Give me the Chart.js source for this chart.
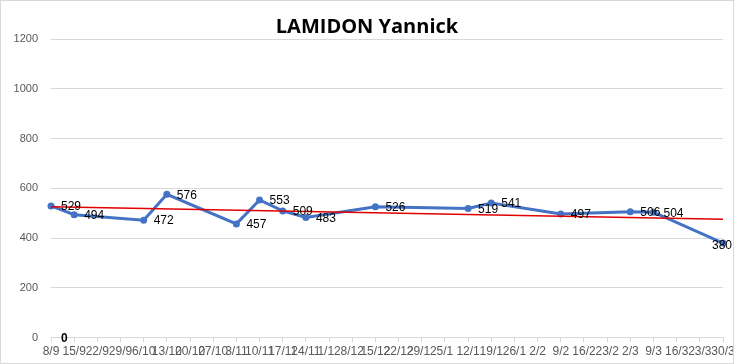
<!DOCTYPE html>
<html><head><meta charset="utf-8">
<script src="https://cdn.jsdelivr.net/npm/chart.js@4"></script>
<style>
html,body{margin:0;padding:0;background:#fff;}
#wrap{position:absolute;left:0;top:0;width:732px;height:362px;border:1px solid #d9d9d9;}
canvas{display:block;}
</style></head><body>
<div id="wrap"><canvas id="c" width="732" height="362"></canvas></div>
<script>
const categories = ["8/9","15/9","22/9","29/9","6/10","13/10","20/10","27/10","3/11","10/11","17/11","24/11","1/12","8/12","15/12","22/12","29/12","5/1","12/1","19/1","26/1","2/2","9/2","16/2","23/2","2/3","9/3","16/3","23/3","30/3"];
const scores = [529,494,null,null,472,576,null,null,457,553,509,483,null,null,526,null,null,null,519,541,null,null,497,null,null,506,504,null,null,380];
const trend = [526,null,null,null,null,null,null,null,null,null,null,null,null,null,null,null,null,null,null,null,null,null,null,null,null,null,null,null,null,476];
const zeroSeries = [0,null,null,null,null,null,null,null,null,null,null,null,null,null,null,null,null,null,null,null,null,null,null,null,null,null,null,null,null,null];
const yTicks = [0,200,400,600,800,1000,1200];

const labelPlugin = {
  id:'dlabels',
  afterDatasetsDraw(chart){
    const ctx = chart.ctx;
    [0,2].forEach(di=>{
      const meta = chart.getDatasetMeta(di);
      const ds = chart.data.datasets[di];
      ctx.save();
      ctx.fillStyle = '#000';
      ctx.font = (di===2?'bold ':'') + '12px "Liberation Sans", Arial, sans-serif';
      ctx.textAlign = 'left';
      ctx.textBaseline = 'middle';
      meta.data.forEach((pt,i)=>{
        const v = ds.data[i];
        if(v===null||v===undefined) return;
        const t = String(v);
        const w = ctx.measureText(t).width;
        let x = pt.x+10, y = pt.y+1;
        if (x + w > chart.width - 1) { x = chart.width - 1 - w; y = pt.y + 3; }
        ctx.fillText(t, x, y);
      });
      ctx.restore();
    });
  }
};

new Chart(document.getElementById('c'),{
  type:'line',
  data:{labels:categories,datasets:[
    {label:'Score',data:scores,borderColor:'#4472C4',backgroundColor:'#4472C4',borderWidth:3,pointRadius:3.5,pointBackgroundColor:'#4472C4',pointBorderWidth:0,spanGaps:true,tension:0,order:2},
    {label:'Tendance',data:trend,borderColor:'#E00000',borderWidth:1.5,pointRadius:0,spanGaps:true,tension:0,order:1},
    {label:'Zero',data:zeroSeries,borderColor:'rgba(0,0,0,0)',pointRadius:0,spanGaps:true,order:3}
  ]},
  options:{
    responsive:false,animation:false,
    layout:{padding:{left:0,right:0,top:0,bottom:2}},
    plugins:{
      legend:{display:false},tooltip:{enabled:false},
      title:{display:true,text:'LAMIDON Yannick',color:'#000',font:{family:'"Open Sans", sans-serif',size:20,weight:'bold'},padding:{top:14,bottom:0}}
    },
    scales:{
      x:{offset:false,
        afterFit(s){s.paddingRight=10;},
        grid:{drawOnChartArea:false,drawTicks:true,tickLength:5,color:'#d9d9d9'},
        border:{display:true,color:'#d9d9d9'},
        ticks:{autoSkip:false,maxRotation:0,minRotation:0,padding:2,color:'#595959',font:{family:'"Liberation Sans Narrow","Liberation Sans",sans-serif',size:12}}
      },
      y:{min:0,max:1200,
        afterBuildTicks(s){s.ticks=yTicks.map(v=>({value:v}));},
        afterFit(s){s.width=50;},
        grid:{color:'#d9d9d9',drawTicks:false},
        border:{display:false},
        ticks:{padding:13,color:'#595959',callback:(v)=>String(v),font:{family:'"Liberation Sans Narrow","Liberation Sans",sans-serif',size:11}}
      }
    }
  },
  plugins:[labelPlugin]
});
</script>
</body></html>
